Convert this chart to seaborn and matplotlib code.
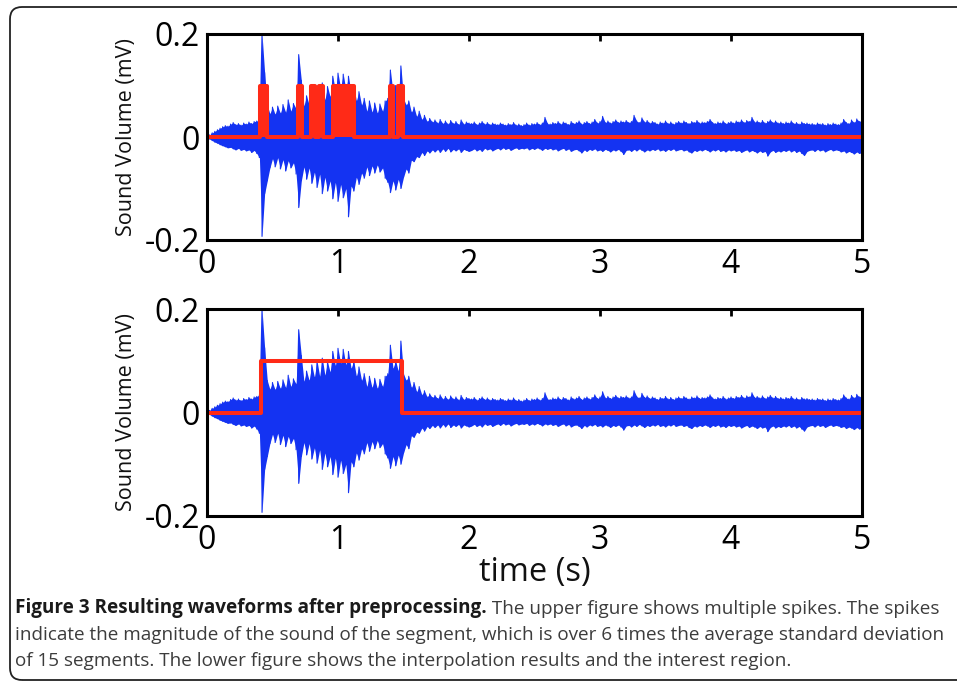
import numpy as np
import pandas as pd
import matplotlib
matplotlib.use("Agg")
import matplotlib.pyplot as plt
import seaborn as sns
from matplotlib.patches import FancyBboxPatch
from matplotlib.transforms import IdentityTransform

# ---------------- data ----------------
time_s = np.round(np.arange(251) * 0.02, 2)   # sample times, 0 .. 5 s

wave_upper = [
    # 0.00 - 2.00 s
    0.000, 0.004, 0.008, 0.011, 0.014, 0.017, 0.020, 0.022, 0.021, 0.025,
    0.028, 0.024, 0.026, 0.023, 0.027, 0.025, 0.029, 0.026, 0.030, 0.031,
    0.034, 0.200, 0.125, 0.062, 0.045, 0.058, 0.044, 0.060, 0.046, 0.063,
    0.048, 0.072, 0.050, 0.065, 0.055, 0.160, 0.110, 0.060, 0.080, 0.062,
    0.092, 0.068, 0.100, 0.070, 0.105, 0.072, 0.098, 0.078, 0.118, 0.090,
    0.124, 0.095, 0.122, 0.092, 0.118, 0.085, 0.100, 0.070, 0.088, 0.062,
    0.075, 0.050, 0.070, 0.048, 0.066, 0.046, 0.064, 0.050, 0.070, 0.075,
    0.130, 0.085, 0.100, 0.080, 0.138, 0.075, 0.062, 0.070, 0.048, 0.058,
    0.040, 0.050, 0.034, 0.042, 0.030, 0.036, 0.029, 0.033, 0.027, 0.034,
    0.026, 0.031, 0.025, 0.032, 0.026, 0.030, 0.024, 0.033, 0.025, 0.029,
    0.027,
    # 2.02 - 5.00 s
    0.026, 0.029, 0.024, 0.027, 0.030, 0.025, 0.028, 0.024, 0.027, 0.025,
    0.024, 0.027, 0.025, 0.023, 0.026, 0.024, 0.028, 0.023, 0.025, 0.022,
    0.024, 0.027, 0.023, 0.026, 0.025, 0.028, 0.024, 0.027, 0.038, 0.026,
    0.025, 0.028, 0.026, 0.030, 0.025, 0.029, 0.027, 0.024, 0.030, 0.026,
    0.028, 0.031, 0.025, 0.028, 0.030, 0.026, 0.029, 0.034, 0.027, 0.030,
    0.040, 0.028, 0.031, 0.027, 0.030, 0.033, 0.028, 0.031, 0.029, 0.032,
    0.028, 0.030, 0.042, 0.031, 0.028, 0.037, 0.029, 0.032, 0.027, 0.030,
    0.028, 0.025, 0.029, 0.027, 0.031, 0.026, 0.029, 0.025, 0.028, 0.030,
    0.027, 0.031, 0.028, 0.026, 0.030, 0.028, 0.032, 0.027, 0.029, 0.028,
    0.030, 0.034, 0.028, 0.026, 0.029, 0.027, 0.031, 0.026, 0.028, 0.030,
    0.027, 0.031, 0.029, 0.033, 0.028, 0.032, 0.030, 0.038, 0.029, 0.031,
    0.028, 0.032, 0.027, 0.030, 0.033, 0.028, 0.031, 0.027, 0.029, 0.026,
    0.029, 0.027, 0.031, 0.026, 0.028, 0.025, 0.029, 0.026, 0.027, 0.025,
    0.026, 0.024, 0.027, 0.025, 0.026, 0.023, 0.026, 0.024, 0.027, 0.025,
    0.024, 0.027, 0.034, 0.028, 0.026, 0.033, 0.028, 0.035, 0.030, 0.034,
]

wave_lower = [
    # 0.00 - 2.00 s
    0.000, -0.004, -0.007, -0.010, -0.012, -0.015, -0.017, -0.019, -0.021, -0.020,
    -0.023, -0.025, -0.022, -0.026, -0.024, -0.027, -0.025, -0.030, -0.026, -0.032,
    -0.040, -0.193, -0.110, -0.085, -0.060, -0.042, -0.058, -0.040, -0.062, -0.044,
    -0.066, -0.046, -0.060, -0.050, -0.072, -0.137, -0.085, -0.058, -0.082, -0.060,
    -0.090, -0.068, -0.098, -0.072, -0.110, -0.078, -0.105, -0.085, -0.120, -0.088,
    -0.125, -0.092, -0.118, -0.100, -0.155, -0.095, -0.105, -0.078, -0.092, -0.070,
    -0.080, -0.058, -0.075, -0.056, -0.070, -0.054, -0.068, -0.060, -0.080, -0.088,
    -0.108, -0.085, -0.103, -0.082, -0.100, -0.078, -0.062, -0.070, -0.045, -0.048,
    -0.038, -0.040, -0.030, -0.036, -0.027, -0.031, -0.025, -0.029, -0.024, -0.030,
    -0.023, -0.028, -0.022, -0.029, -0.024, -0.027, -0.023, -0.030, -0.024, -0.026,
    -0.028,
    # 2.02 - 5.00 s
    -0.026, -0.023, -0.027, -0.024, -0.028, -0.022, -0.025, -0.023, -0.027, -0.024,
    -0.022, -0.025, -0.021, -0.024, -0.022, -0.026, -0.023, -0.021, -0.024, -0.022,
    -0.023, -0.021, -0.025, -0.022, -0.024, -0.021, -0.023, -0.026, -0.022, -0.024,
    -0.022, -0.025, -0.023, -0.027, -0.024, -0.022, -0.026, -0.023, -0.028, -0.025,
    -0.024, -0.027, -0.031, -0.025, -0.028, -0.024, -0.026, -0.023, -0.027, -0.025,
    -0.028, -0.024, -0.026, -0.029, -0.025, -0.027, -0.024, -0.028, -0.034, -0.026,
    -0.025, -0.028, -0.024, -0.027, -0.023, -0.026, -0.029, -0.025, -0.027, -0.024,
    -0.026, -0.023, -0.027, -0.025, -0.028, -0.024, -0.026, -0.023, -0.027, -0.025,
    -0.024, -0.027, -0.025, -0.029, -0.031, -0.026, -0.028, -0.025, -0.027, -0.024,
    -0.026, -0.029, -0.025, -0.027, -0.024, -0.028, -0.026, -0.029, -0.025, -0.027,
    -0.025, -0.028, -0.026, -0.030, -0.027, -0.025, -0.029, -0.026, -0.028, -0.031,
    -0.027, -0.030, -0.028, -0.037, -0.029, -0.026, -0.030, -0.027, -0.029, -0.026,
    -0.028, -0.025, -0.029, -0.026, -0.030, -0.027, -0.032, -0.036, -0.028, -0.026,
    -0.025, -0.028, -0.024, -0.027, -0.025, -0.029, -0.026, -0.024, -0.027, -0.025,
    -0.026, -0.029, -0.027, -0.031, -0.028, -0.030, -0.033, -0.029, -0.032, -0.030,
]

# spike segments detected in the upper figure (s)
spike_start = [0.406, 0.698, 0.792, 0.853, 0.960, 1.395, 1.459]
spike_end = [0.457, 0.729, 0.821, 0.882, 1.125, 1.422, 1.493]
spike_level = 0.1

# interest region in the lower figure (s)
region_start = 0.41
region_end = 1.49
region_level = 0.1

x_ticks = [0, 1, 2, 3, 4, 5]
x_tick_labels = ["0", "1", "2", "3", "4", "5"]
y_ticks = [-0.2, 0, 0.2]
y_tick_labels = ["-0.2", "0", "0.2"]

y_label = "Sound Volume (mV)"
x_label = "time (s)"
caption_bold = "Figure 3 Resulting waveforms after preprocessing."
caption_lines = [
    " The upper figure shows multiple spikes. The spikes",
    "indicate the magnitude of the sound of the segment, which is over 6 times the average standard deviation",
    "of 15 segments. The lower figure shows the interpolation results and the interest region.",
]

assert len(wave_upper) == len(time_s) == len(wave_lower)

# ---------------- styling ----------------
BLUE = "#1433f2"
RED = "#ff2a17"

sns.set_theme(style="white")
plt.rcParams["font.family"] = ["Open Sans", "DejaVu Sans"]

W, H, DPI = 957, 683, 100
fig = plt.figure(figsize=(W / DPI, H / DPI), dpi=DPI)
fig.patch.set_facecolor("white")


def px_axes(left, top, right, bottom):
    return fig.add_axes([left / W, 1 - bottom / H, (right - left) / W, (bottom - top) / H])


ax_top = px_axes(207, 34, 862, 240)
ax_bot = px_axes(207, 309, 862, 516)

# step signals
top_t, top_v = [0.0], [0.0]
for s, e in zip(spike_start, spike_end):
    top_t += [s, s, e, e]
    top_v += [0.0, spike_level, spike_level, 0.0]
top_t.append(5.0)
top_v.append(0.0)

bot_t = [0.0, region_start, region_start, region_end, region_end, 5.0]
bot_v = [0.0, 0.0, region_level, region_level, 0.0, 0.0]

zig = pd.DataFrame({
    "t": np.repeat(time_s, 2),
    "v": np.column_stack([wave_upper, wave_lower]).ravel(),
})


def draw_panel(ax, step_t, step_v, filled):
    ax.fill_between(time_s, wave_lower, wave_upper, color=BLUE, lw=0, zorder=1)
    sns.lineplot(data=zig, x="t", y="v", sort=False, estimator=None,
                 color=BLUE, lw=0.8, ax=ax, zorder=1.5)
    if filled:
        ax.fill_between(step_t, 0, step_v, color=RED, lw=0, zorder=2)
    sns.lineplot(x=step_t, y=step_v, sort=False, estimator=None,
                 color=RED, lw=2.9, ax=ax, zorder=2.2)
    ax.set_xlim(0, 5)
    ax.set_ylim(-0.2, 0.2)
    ax.set_xticks(x_ticks)
    ax.set_xticklabels(x_tick_labels)
    ax.set_yticks(y_ticks)
    ax.set_yticklabels(y_tick_labels)
    ax.set_xlabel("")
    ax.set_ylabel(y_label, fontsize=15.5, color="#111111", labelpad=0)
    ax.yaxis.set_label_coords(-0.107, 0.5)
    ax.tick_params(axis="both", direction="in", length=5, width=2,
                   top=True, right=True, colors="black")
    ax.tick_params(axis="x", labelsize=23, pad=6)
    ax.tick_params(axis="y", labelsize=23, pad=5)
    for sp in ax.spines.values():
        sp.set_visible(True)
        sp.set_linewidth(2.2)
        sp.set_color("black")
        sp.set_zorder(5)
    ax.set_facecolor("white")


draw_panel(ax_top, top_t, top_v, True)
draw_panel(ax_bot, bot_t, bot_v, False)

fig.text(535 / W, 1 - 573 / H, x_label, fontsize=23.5, ha="center", va="center", color="#111111")

# caption
renderer = fig.canvas.get_renderer()
cap_fs = 13.6
x0 = 15
bold = fig.text(x0 / W, 1 - 613.5 / H, caption_bold, fontsize=cap_fs, fontweight="bold",
                ha="left", va="baseline", color="#1a1a1a")
bb = bold.get_window_extent(renderer)
fig.text(bb.x1 / W, 1 - 613.5 / H, caption_lines[0], fontsize=cap_fs, ha="left",
         va="baseline", color="#3c3c3c")
fig.text(x0 / W, 1 - 639.5 / H, caption_lines[1], fontsize=cap_fs, ha="left",
         va="baseline", color="#3c3c3c")
fig.text(x0 / W, 1 - 665.5 / H, caption_lines[2], fontsize=cap_fs, ha="left",
         va="baseline", color="#3c3c3c")

# rounded frame around figure
frame = FancyBboxPatch((10, 3), 990, H - 7 - 3, boxstyle="round,pad=0,rounding_size=12",
                       transform=IdentityTransform(), fill=False, edgecolor="#222222",
                       lw=1.3, clip_on=False)
fig.add_artist(frame)

fig.savefig("out.png", dpi=DPI, facecolor="white")
